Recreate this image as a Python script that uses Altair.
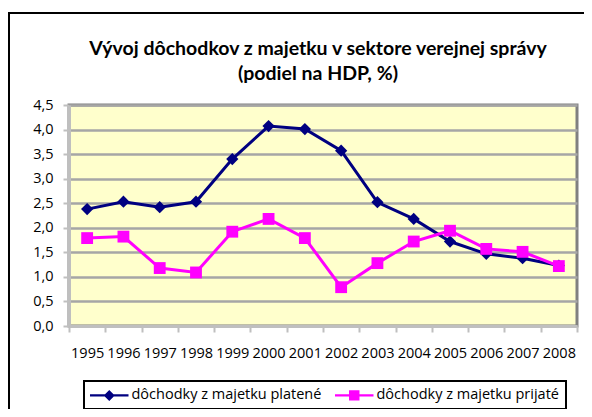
import altair as alt
import pandas as pd

years = [str(y) for y in range(1995, 2009)]
platene = [2.38, 2.53, 2.42, 2.53, 3.40, 4.07, 4.01, 3.57, 2.52, 2.18, 1.72, 1.47, 1.38, 1.23]
prijate = [1.79, 1.82, 1.18, 1.09, 1.92, 2.18, 1.79, 0.79, 1.28, 1.72, 1.94, 1.57, 1.51, 1.22]
series = ["dôchodky z majetku platené", "dôchodky z majetku prijaté"]
colors = ["#000080", "#FF00FF"]
y_ticks = [0, 0.5, 1, 1.5, 2, 2.5, 3, 3.5, 4, 4.5]
title_lines = ["Vývoj dôchodkov z majetku v sektore verejnej správy", "(podiel na HDP, %)"]

rows = []
for i, yr in enumerate(years):
    rows.append({"rok": yr, "seria": series[0], "hodnota": platene[i]})
    rows.append({"rok": yr, "seria": series[1], "hodnota": prijate[i]})
df = pd.DataFrame(rows)

FONT = "Open Sans"
W, H = 508, 221

x_enc = alt.X("rok:O", scale=alt.Scale(type="band", paddingInner=0, paddingOuter=0),
              bandPosition=0.5,
              axis=alt.Axis(title=None, tickBand="extent", labelAngle=0, labelFont=FONT,
                            labelFontSize=14.5, labelColor="#000000", labelPadding=14,
                            domainColor="#BFBFBF", domainWidth=3, tickColor="#BFBFBF",
                            tickWidth=2, tickSize=6, grid=False))
y_enc = alt.Y("hodnota:Q", scale=alt.Scale(domain=[0, 4.5], nice=False),
              axis=alt.Axis(title=None, values=y_ticks,
                            labelExpr="replace(format(datum.value, '.1f'), '.', ',')",
                            labelFont=FONT, labelFontSize=14.5, labelColor="#000000",
                            labelPadding=10, domainColor="#BFBFBF", domainWidth=3,
                            tickColor="#BFBFBF", tickWidth=2, tickSize=6,
                            grid=True, gridColor="#A6A6A6", gridWidth=2.5))

color_scale = alt.Scale(domain=series, range=colors)

base = alt.Chart(df)

frame = alt.Chart(pd.DataFrame({"a": [0]})).mark_rect(
    fill=None, stroke="#000000", strokeWidth=2, clip=False
).encode(x=alt.value(-60), x2=alt.value(W + 40), y=alt.value(-92), y2=alt.value(H + 120))

title1 = alt.Chart(pd.DataFrame({"t": [title_lines[0]]})).mark_text(
    font="Lato", fontSize=19.5, fontWeight="bold", color="#000000", align="center",
    baseline="alphabetic", clip=False
).encode(text="t:N", x=alt.value(W / 2 - 5), y=alt.value(-50))

title2 = alt.Chart(pd.DataFrame({"t": [title_lines[1]]})).mark_text(
    font="Lato", fontSize=19.5, fontWeight="bold", color="#000000", align="center",
    baseline="alphabetic", clip=False
).encode(text="t:N", x=alt.value(W / 2 - 5), y=alt.value(-25))


def series_layers(name, col, shape, size):
    sub = base.transform_filter(alt.datum.seria == name)
    ln = sub.mark_line(strokeWidth=3, color=col).encode(x=x_enc, y=y_enc)
    pt = sub.mark_point(shape=shape, filled=True, size=size, opacity=1, color=col).encode(
        x=x_enc, y=y_enc)
    return [ln, pt]


layers_a = series_layers(series[0], colors[0], "diamond", 150)
layers_b = series_layers(series[1], colors[1], "square", 140)

shape_a = "M-3.5,-0.22L3.5,-0.22L3.5,0.22L-3.5,0.22Z M0,-1L1,0L0,1L-1,0Z"
shape_b = "M-3.5,-0.22L3.5,-0.22L3.5,0.22L-3.5,0.22Z M-0.95,-0.95L0.95,-0.95L0.95,0.95L-0.95,0.95Z"

leg = alt.Legend(title=None, orient="none", legendX=15, legendY=276,
                 direction="horizontal", strokeColor="#000000",
                 padding=7, symbolSize=121, symbolOffset=11,
                 labelOffset=15, columnPadding=13, labelLimit=400,
                 labelFont=FONT, labelFontSize=14.5, labelColor="#000000",
                 symbolStrokeWidth=0)

ghost = base.mark_point(filled=True, opacity=1, size=0).encode(
    x=x_enc, y=y_enc,
    fill=alt.Fill("seria:N", scale=color_scale, legend=leg),
    shape=alt.Shape("seria:N", scale=alt.Scale(domain=series, range=[shape_a, shape_b]),
                    legend=leg),
)

chart = alt.layer(frame, title1, title2, *layers_a, *layers_b, ghost).properties(
    width=W, height=H,
    autosize=alt.AutoSizeParams(type="none"),
    padding={"left": 61, "top": 97, "right": 7, "bottom": 83},
).configure_view(
    fill="#FFFFCC", stroke="#808080", strokeWidth=3
).configure_legend(
    strokeWidth=2
)

chart.save("out.html", embed_options={"renderer": "svg", "actions": False})
